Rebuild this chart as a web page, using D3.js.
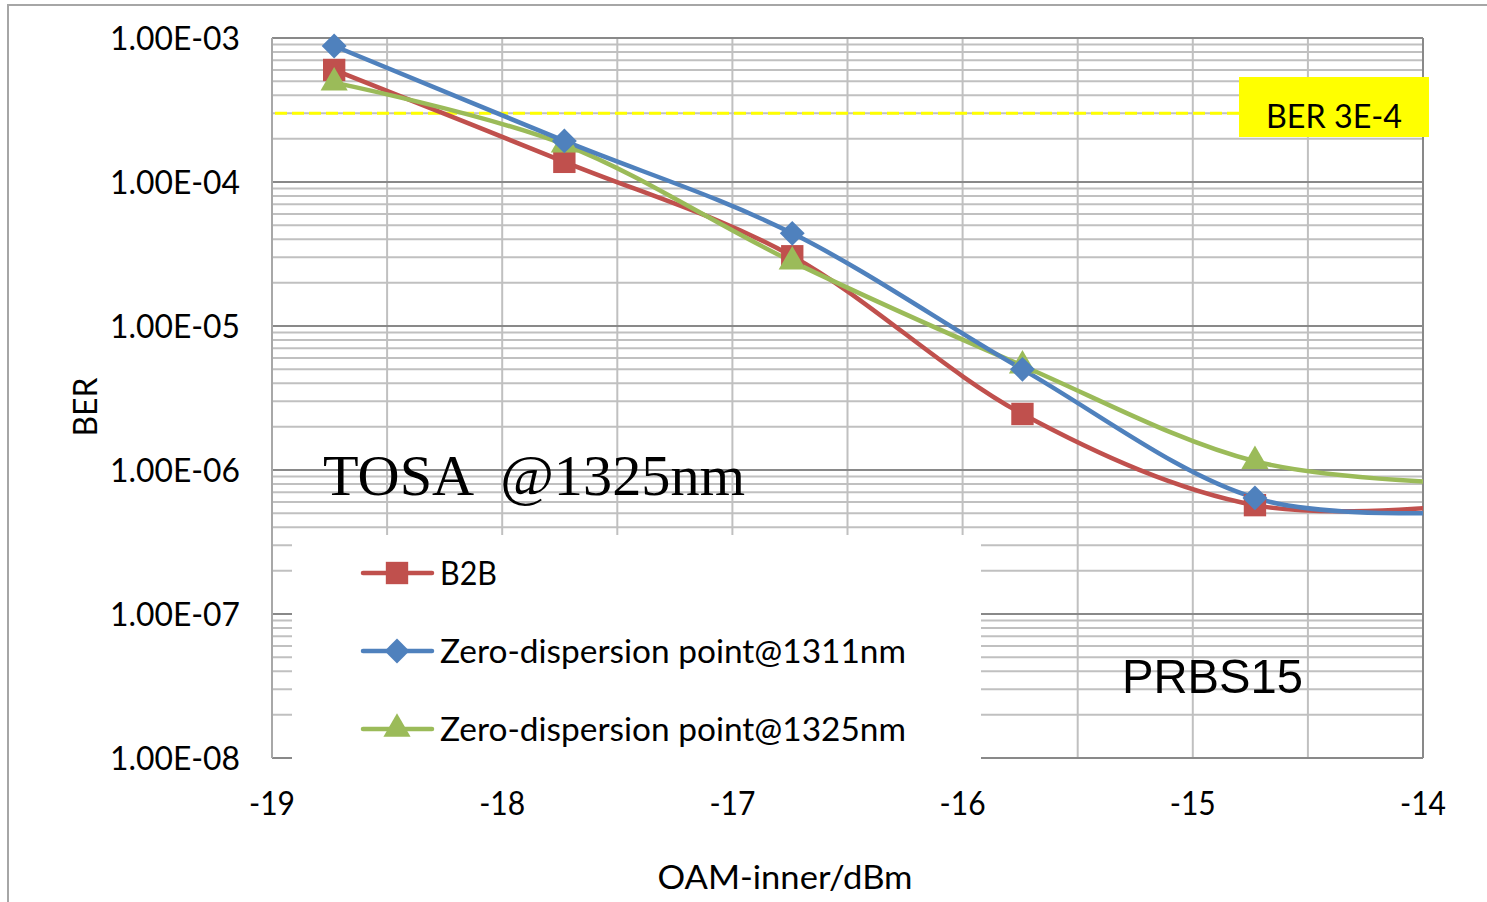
<!DOCTYPE html>
<html>
<head>
<meta charset="utf-8">
<script src="https://cdn.jsdelivr.net/npm/d3@7"></script>
<style>
  html, body { margin: 0; padding: 0; background: #ffffff; }
  svg { display: block; }
</style>
</head>
<body>
<svg id="chart" width="1487" height="902"></svg>
<script>
// ---------- data ----------
const xValues = [-18.73, -17.73, -16.74, -15.74, -14.73, -13.73];
const b2b     = [6.0e-4, 1.38e-4, 3.05e-5, 2.45e-6, 5.7e-7, 5.9e-7];
const zd1311  = [8.8e-4, 1.93e-4, 4.4e-5, 5.0e-6, 6.4e-7, 5.2e-7];
const zd1325  = [4.9e-4, 1.82e-4, 2.8e-5, 5.3e-6, 1.15e-6, 8.0e-7];
const seriesNames = ["B2B", "Zero-dispersion point@1311nm", "Zero-dispersion point@1325nm"];
const yTickLabels = ["1.00E-08", "1.00E-07", "1.00E-06", "1.00E-05", "1.00E-04", "1.00E-03"];
const yTickValues = [1e-8, 1e-7, 1e-6, 1e-5, 1e-4, 1e-3];
const xTickLabels = ["-19", "-18", "-17", "-16", "-15", "-14"];
const xTickValues = [-19, -18, -17, -16, -15, -14];
const berThreshold = 3e-4;
const thresholdLabel = "BER 3E-4";
const xTitle = "OAM-inner/dBm";
const yTitle = "BER";
const note1 = "TOSA  @1325nm";
const note2 = "PRBS15";

// ---------- setup ----------
const svg = d3.select("#chart");
const pLeft = 272, pRight = 1423, pTop = 38, pBottom = 758;
const x = d3.scaleLinear().domain([-19, -14]).range([pLeft, pRight]);
const y = d3.scaleLog().domain([1e-8, 1e-3]).range([pBottom, pTop]);
const FONT = "Lato, 'Noto Sans', sans-serif";
const FS = 33;

// outer chart border
svg.append("rect").attr("x", 8).attr("y", 5).attr("width", 1500).attr("height", 920)
  .attr("fill", "none").attr("stroke", "#a6a6a6").attr("stroke-width", 2);

// ---------- gridlines ----------
const grid = svg.append("g");
const minorY = y.ticks().filter(v => {
  const m = v / Math.pow(10, Math.floor(Math.log10(v) + 1e-9));
  return Math.abs(m - 1) > 1e-6;
});
grid.selectAll("line.ymin").data(minorY).join("line")
  .attr("x1", pLeft).attr("x2", pRight)
  .attr("y1", d => y(d)).attr("y2", d => y(d))
  .attr("stroke", "#c0c0c0").attr("stroke-width", 2);
grid.selectAll("line.xg").data(x.ticks(10).filter(v => v > -19 && v < -14)).join("line")
  .attr("x1", d => x(d)).attr("x2", d => x(d))
  .attr("y1", pTop).attr("y2", pBottom)
  .attr("stroke", "#c0c0c0").attr("stroke-width", 2);
grid.selectAll("line.ymaj").data(yTickValues).join("line")
  .attr("x1", pLeft).attr("x2", pRight)
  .attr("y1", d => y(d)).attr("y2", d => y(d))
  .attr("stroke", "#898989").attr("stroke-width", 2);
grid.append("line").attr("x1", pLeft).attr("x2", pLeft).attr("y1", pTop).attr("y2", pBottom)
  .attr("stroke", "#a8a8a8").attr("stroke-width", 2);
grid.append("line").attr("x1", pRight).attr("x2", pRight).attr("y1", pTop).attr("y2", pBottom)
  .attr("stroke", "#898989").attr("stroke-width", 2);

// ---------- axis labels ----------
svg.append("g").selectAll("text").data(yTickValues).join("text")
  .attr("x", 240).attr("y", d => y(d)).attr("dy", "0.36em")
  .attr("text-anchor", "end").attr("font-family", FONT).attr("font-size", FS)
  .attr("textLength", 130).attr("lengthAdjust", "spacingAndGlyphs")
  .text((d, i) => yTickLabels[i]);
svg.append("g").selectAll("text").data(xTickValues).join("text")
  .attr("x", d => x(d)).attr("y", 803).attr("dy", "0.36em")
  .attr("text-anchor", "middle").attr("font-family", FONT).attr("font-size", FS)
  .attr("textLength", 46).attr("lengthAdjust", "spacingAndGlyphs")
  .text((d, i) => xTickLabels[i]);
svg.append("text").attr("x", 785).attr("y", 877).attr("dy", "0.36em")
  .attr("text-anchor", "middle").attr("font-family", FONT).attr("font-size", FS)
  .attr("textLength", 255).attr("lengthAdjust", "spacingAndGlyphs").text(xTitle);
svg.append("text").attr("transform", "translate(85,407) rotate(-90)").attr("dy", "0.36em")
  .attr("text-anchor", "middle").attr("font-family", FONT).attr("font-size", FS)
  .attr("textLength", 59).attr("lengthAdjust", "spacingAndGlyphs").text(yTitle);

// ---------- threshold ----------
svg.append("line").attr("x1", x(-19) + 3).attr("x2", 1239)
  .attr("y1", y(berThreshold)).attr("y2", y(berThreshold))
  .attr("stroke", "#ffff00").attr("stroke-width", 3).attr("stroke-dasharray", "12,5");
svg.append("rect").attr("x", 1239).attr("y", 77).attr("width", 190).attr("height", 60)
  .attr("fill", "#ffff00");
svg.append("text").attr("x", 1334).attr("y", 116).attr("dy", "0.36em")
  .attr("text-anchor", "middle").attr("font-family", FONT).attr("font-size", FS)
  .attr("textLength", 136).attr("lengthAdjust", "spacingAndGlyphs").text(thresholdLabel);

// ---------- series ----------
const colors = ["#C0504D", "#4F81BD", "#9BBB59"];
const seriesData = [b2b, zd1311, zd1325];
const symbols = [
  d3.symbol().type(d3.symbolSquare).size(500),
  d3.symbol().type(d3.symbolSquare).size(310),
  d3.symbol().type(d3.symbolTriangle).size(320)
];
const symRot = [0, 45, 0];

svg.append("defs").append("clipPath").attr("id", "plotclip")
  .append("rect").attr("x", pLeft).attr("y", 0).attr("width", pRight - pLeft).attr("height", 902);

const line = d3.line().x(d => x(d[0])).y(d => y(d[1])).curve(d3.curveCatmullRom.alpha(0));

const order = [0, 2, 1];
order.forEach(i => {
  const pts = xValues.map((xv, j) => [xv, seriesData[i][j]]);
  svg.append("path").datum(pts).attr("d", line)
    .attr("fill", "none").attr("stroke", colors[i]).attr("stroke-width", 4.5)
    .attr("clip-path", "url(#plotclip)");
});
order.forEach(i => {
  const pts = xValues.map((xv, j) => [xv, seriesData[i][j]]).filter(p => p[0] <= -14);
  svg.append("g").selectAll("path").data(pts).join("path")
    .attr("d", symbols[i])
    .attr("transform", d => `translate(${x(d[0])},${y(d[1])}) rotate(${symRot[i]})`)
    .attr("fill", colors[i]);
});

// ---------- annotations ----------
svg.append("text").attr("x", 323).attr("y", 495)
  .attr("font-family", "'Liberation Serif', 'Times New Roman', serif").attr("font-size", 58)
  .attr("textLength", 422).attr("lengthAdjust", "spacingAndGlyphs")
  .style("white-space", "pre").text(note1);

// ---------- legend ----------
svg.append("rect").attr("x", 292).attr("y", 535).attr("width", 689).attr("height", 226)
  .attr("fill", "#ffffff");
const legendY = [573, 651, 729];
const leg = svg.append("g");
seriesNames.forEach((name, i) => {
  leg.append("line").attr("x1", 363).attr("x2", 432).attr("y1", legendY[i]).attr("y2", legendY[i])
    .attr("stroke", colors[i]).attr("stroke-width", 4.5).attr("stroke-linecap", "round");
  leg.append("path").attr("d", symbols[i])
    .attr("transform", `translate(397,${legendY[i]}) rotate(${symRot[i]})`)
    .attr("fill", colors[i]);
  leg.append("text").attr("x", 440).attr("y", legendY[i]).attr("dy", "0.36em")
    .attr("font-family", FONT).attr("font-size", FS)
    .attr("textLength", i === 0 ? 57 : 466).attr("lengthAdjust", "spacingAndGlyphs")
    .text(name);
});

svg.append("text").attr("x", 1122).attr("y", 693)
  .attr("font-family", "'Liberation Sans', Arial, sans-serif").attr("font-size", 49)
  .attr("textLength", 181).attr("lengthAdjust", "spacingAndGlyphs").text(note2);
</script>
</body>
</html>
